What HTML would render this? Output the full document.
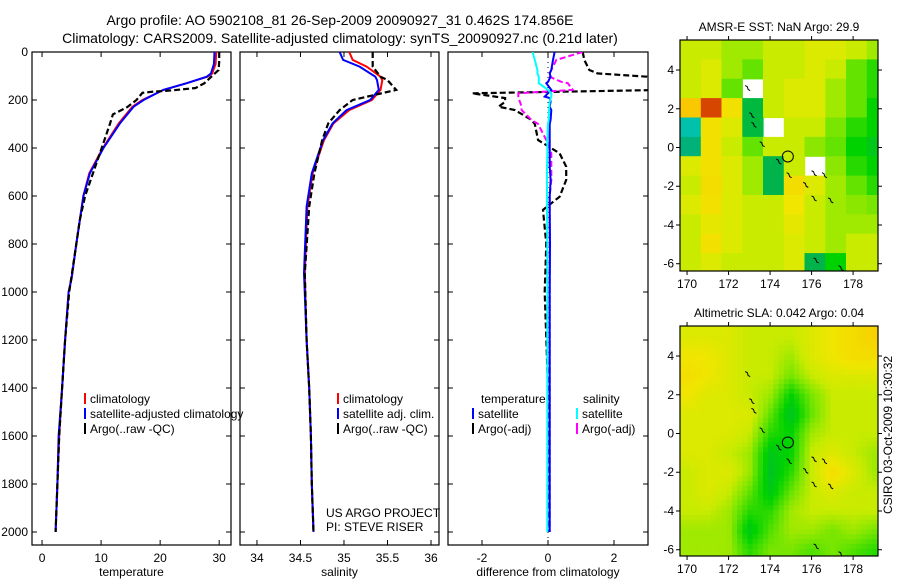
<!DOCTYPE html>
<html><head><meta charset="utf-8"><style>
html,body{margin:0;padding:0;background:#fff;}
svg{display:block;font-family:"Liberation Sans",sans-serif;}
text{fill:#000;}
</style></head><body>
<svg id="fig" width="900" height="580" viewBox="0 0 900 580">
<text x="340" y="25" font-size="14" text-anchor="middle">Argo profile: AO 5902108_81 26-Sep-2009 20090927_31 0.462S 174.856E</text>
<text x="340" y="43" font-size="14" text-anchor="middle">Climatology: CARS2009. Satellite-adjusted climatology: synTS_20090927.nc (0.21d later)</text>
<g id="p1"></g>
<g id="p2"></g>
<g id="p3"></g>
<g id="m1"></g>
<g id="m2"></g>
<text x="0" y="0" font-size="12" transform="translate(892,435) rotate(-90)" text-anchor="middle">CSIRO 03-Oct-2009 10:30:32</text>
</svg>
<script>
// ---- profile data ----
const depthT = [0,50,90,103,130,158,200,228,297,400,505,600,800,943,1000,1200,1400,1600,1800,2000];
const tempSat = [29.2,29.1,28.6,27.9,24.5,20.5,17.2,15.5,13.2,10.4,8.1,7.0,5.8,5.0,4.5,3.9,3.4,2.8,2.6,2.3];
const tempClim = [29.5,29.4,28.8,28.0,24.5,20.6,17.0,15.3,13.0,10.3,8.0,7.0,5.8,5.0,4.5,3.9,3.4,2.9,2.6,2.3];
const depthA = [0,40,75,100,130,150,160,165,170,200,230,260,300,400,500,600,700,800,1000,1200,1400,1600,1800,2000];
const tempArgo = [30.0,30.0,29.9,28.8,27.5,26.0,22,18.9,17.0,16.0,14.4,12.0,11.5,10.1,8.7,7.3,6.4,5.8,4.6,3.9,3.4,2.9,2.6,2.3];
const depthS = [0,33,61,103,117,158,200,242,297,367,505,644,922,1200,1400,1600,1800,2000];
const salSat = [34.95,34.99,35.18,35.36,35.38,35.40,35.30,35.03,34.87,34.76,34.63,34.57,34.54,34.57,34.60,34.62,34.63,34.65];
const salClim = [35.06,35.10,35.26,35.42,35.44,35.42,35.32,35.06,34.88,34.77,34.64,34.58,34.55,34.57,34.60,34.62,34.63,34.65];
const salArgo = [35.33,35.33,35.33,35.42,35.50,35.60,35.10,34.95,34.82,34.75,34.66,34.60,34.55,34.57,34.60,34.62,34.63,34.65];
const depthD = [0,33,75,89,103,124,130,158,172,186,192,207,228,242,283,300,367,422,478,533,603,658,800,1000,1400,2000];
const dTempSat = [0.2,0.15,0.1,0.05,0.08,0.0,-0.05,0.1,0.0,-0.1,0.05,0.08,0.05,0.1,0.08,0.05,0.05,0.05,0.05,0.08,0.05,0.05,0.06,0.05,0.05,0.05];
const dSalSat = [-0.47,-0.40,-0.32,-0.32,-0.28,-0.28,-0.28,0.0,0.1,0.1,0.08,0.05,0.04,0.03,0.02,0.0,-0.02,-0.02,-0.03,-0.03,-0.03,-0.03,-0.02,-0.02,-0.02,-0.02];
const dTempArgo = [1.05,1.1,1.25,1.5,3.0,3.5,3.5,3.5,-2.3,-1.6,-1.3,-1.3,-1.5,-1.0,-0.5,-0.4,-0.3,0.35,0.55,0.55,0.35,-0.15,-0.05,-0.1,0.0,0.0];
const dSalArgo = [1.05,0.25,0.1,0.05,0.05,0.4,0.6,0.75,-0.9,-0.9,-0.9,-0.85,-0.8,-0.8,-0.5,-0.3,-0.05,0.1,0.1,0.1,0.05,0.05,0.05,0.05,0.05,0.05];
const depthTicks = [0,200,400,600,800,1000,1200,1400,1600,1800,2000];
const tempTicks = [0,10,20,30];
const salTicks = [34,34.5,35,35.5,36];
const diffTicks = [-2,0,2];
// ---- map data: 1-degree cells, rows lat 5..-6, cols lon 170..179 ----
const mapLons = [170,171,172,173,174,175,176,177,178,179];
const mapLats = [5,4,3,2,1,0,-1,-2,-3,-4,-5,-6];
const sstGrid = [
[0.6,0.6,0.58,0.58,0.6,0.6,0.62,0.62,0.6,0.58],
[0.6,0.62,0.58,0.55,0.6,0.6,0.62,0.6,0.55,0.52],
[0.6,0.62,0.55,null,0.6,0.62,0.62,0.58,0.55,0.52],
[0.7,0.85,0.65,0.45,0.6,0.62,0.62,0.58,0.55,0.5],
[0.35,0.65,0.62,0.45,null,0.6,0.6,0.56,0.52,0.5],
[0.4,0.65,0.6,0.55,0.6,0.6,0.57,0.55,0.5,0.48],
[0.62,0.65,0.62,0.58,0.44,0.6,null,0.57,0.52,0.5],
[0.6,0.66,0.62,0.58,0.44,0.66,0.62,0.58,0.55,0.52],
[0.62,0.65,0.62,0.6,0.6,0.64,0.6,0.58,0.57,0.56],
[0.6,0.63,0.62,0.6,0.6,0.63,0.6,0.58,0.58,0.58],
[0.6,0.65,0.62,0.6,0.6,0.62,0.6,0.58,0.6,0.6],
[0.6,0.62,0.6,0.6,0.6,0.62,0.44,0.5,0.6,0.6]];
const slaGrid = [
[.62,.62,.62,.6,.6,.6,.62,.64,.66,.68],
[.64,.64,.62,.6,.6,.58,.62,.64,.66,.66],
[.66,.64,.62,.6,.6,.56,.6,.62,.62,.62],
[.64,.62,.62,.6,.58,.5,.56,.6,.6,.6],
[.62,.62,.62,.62,.55,.47,.55,.6,.6,.6],
[.62,.62,.62,.6,.52,.5,.58,.6,.6,.6],
[.62,.62,.6,.58,.48,.5,.6,.62,.6,.58],
[.6,.62,.62,.58,.47,.52,.6,.66,.62,.58],
[.6,.62,.6,.55,.48,.55,.6,.62,.6,.6],
[.6,.6,.58,.52,.52,.58,.6,.6,.6,.6],
[.58,.58,.58,.48,.54,.58,.58,.56,.58,.56],
[.58,.58,.58,.52,.56,.56,.54,.56,.54,.52]];
const floatLon = 174.856, floatLat = -0.462;

const NS = "http://www.w3.org/2000/svg";
function mk(parent, tag, attrs){const e=document.createElementNS(NS,tag);for(const k in attrs)e.setAttribute(k,attrs[k]);parent.appendChild(e);return e;}
const TOP=52, BOT=545;
const yD = d => TOP + d*0.24;

function panel(gid, x0, x1, xMin, xMax, ticks, label, showY){
  const g=document.getElementById(gid);
  const xs = v => x0 + (v-xMin)/(xMax-xMin)*(x1-x0);
  const box=mk(g,'rect',{x:x0,y:TOP,width:x1-x0,height:BOT-TOP,fill:'none',stroke:'#000','stroke-width':1.2});
  
  
  ticks.forEach(t=>{
    const x=xs(t);
    mk(g,'line',{x1:x,x2:x,y1:BOT,y2:BOT-5,stroke:'#000'});
    mk(g,'line',{x1:x,x2:x,y1:TOP,y2:TOP+5,stroke:'#000'});
    const tx=mk(g,'text',{x:x,y:BOT+17,'font-size':12,'text-anchor':'middle'});
    tx.textContent=String(t);
    
    
  });
  depthTicks.forEach(d=>{
    const y=yD(d);
    mk(g,'line',{x1:x0,x2:x0+5,y1:y,y2:y,stroke:'#000'});
    mk(g,'line',{x1:x1,x2:x1-5,y1:y,y2:y,stroke:'#000'});
    if(showY){const tx=mk(g,'text',{x:x0-4,y:y+4,'font-size':12,'text-anchor':'end'});tx.textContent=String(d);
      
      }
  });
  const lb=mk(g,'text',{x:(x0+x1)/2,y:BOT+31,'font-size':12,'text-anchor':'middle'});
  lb.textContent=label;
  
  
  const clipId='c'+gid;
  const cp=mk(g,'clipPath',{id:clipId});mk(cp,'rect',{x:x0,y:TOP,width:x1-x0,height:BOT-TOP});
  const inner=mk(g,'g',{'clip-path':'url(#'+clipId+')'});
  return {g, inner, xs};
}
function series(P, depths, vals, color, dash, name, w){
  const pts=depths.map((d,i)=>P.xs(vals[i]).toFixed(1)+','+yD(d).toFixed(1)).join(' ');
  const pl=mk(P.inner,'polyline',{points:pts,fill:'none',stroke:color,'stroke-width':w||2,'stroke-dasharray':dash||'none'});
  
  
}
function legend(g,x,y,items){
  items.forEach((it,i)=>{
    const yy=y+i*15;
    mk(g,'line',{x1:x,x2:x,y1:yy-10,y2:yy+1,stroke:it[1],'stroke-width':2});
    const t=mk(g,'text',{x:x+5,y:yy,'font-size':12});t.textContent=it[0];
    
    
  });
}
const P1=panel('p1',32,231,-1.7,32,tempTicks,'temperature',true);
series(P1,depthT,tempClim,'#f00','none','temp-climatology-line');
series(P1,depthT,tempSat,'#00f','none','temp-satellite-line');
series(P1,depthA,tempArgo,'#000','6,3','temp-argo-line',2.2);
legend(P1.g,85,403,[['climatology','#f00'],['satellite-adjusted climatology','#00f'],['Argo(..raw -QC)','#000']]);

const P2=panel('p2',240,439,33.805,36.092,salTicks,'salinity',false);
series(P2,depthS,salClim,'#f00','none','sal-climatology-line');
series(P2,depthS,salSat,'#00f','none','sal-satellite-line');
series(P2,depthS,salArgo,'#000','6,3','sal-argo-line',2.2);
legend(P2.g,338,403,[['climatology','#f00'],['satellite adj. clim.','#00f'],['Argo(..raw -QC)','#000']]);
[['US ARGO PROJECT',517],['PI: STEVE RISER',531]].forEach(a=>{const t=mk(P2.g,'text',{x:326,y:a[1],'font-size':12});t.textContent=a[0];
  
  });

const P3=panel('p3',448,648,-3.03,3.03,diffTicks,'difference from climatology',false);
mk(P3.inner,'line',{x1:P3.xs(0),x2:P3.xs(0),y1:TOP,y2:BOT,stroke:'#000','stroke-dasharray':'1,4'});
series(P3,depthD,dTempArgo,'#000','6,3','diff-temp-argo-line',2.2);
series(P3,depthD,dSalArgo,'#f0f','6,3','diff-sal-argo-line');
series(P3,depthD,dTempSat,'#00f','none','diff-temp-satellite-line');
series(P3,depthD,dSalSat,'#0ff','none','diff-sal-satellite-line');
{const t=mk(P3.g,'text',{x:481,y:403,'font-size':12});t.textContent='temperature';
 
 
 const t2=mk(P3.g,'text',{x:583,y:403,'font-size':12});t2.textContent='salinity';
 
 }
legend(P3.g,473,418,[['satellite','#00f'],['Argo(-adj)','#000']]);
legend(P3.g,577,418,[['satellite','#0ff'],['Argo(-adj)','#f0f']]);

// ---- maps ----
const cmapStops=[[0,[0,0,140]],[0.15,[0,60,255]],[0.3,[0,210,220]],[0.42,[0,170,100]],[0.5,[0,210,0]],[0.56,[120,230,0]],[0.6,[200,235,0]],[0.64,[240,230,0]],[0.7,[250,200,0]],[0.8,[240,120,0]],[0.88,[200,40,0]],[1,[140,0,0]]];
function cmap(v){
  v=Math.max(0,Math.min(1,v));
  for(let i=1;i<cmapStops.length;i++){
    if(v<=cmapStops[i][0]){
      const a=cmapStops[i-1],b=cmapStops[i],t=(v-a[0])/(b[0]-a[0]);
      const c=a[1].map((x,k)=>Math.round(x+(b[1][k]-x)*t));
      return 'rgb('+c.join(',')+')';
    }
  }
  return 'rgb(140,0,0)';
}
function mapPanel(gid, top, bottom, title, grid, smooth){
  const g=document.getElementById(gid);
  const L=680,R=878, lonMin=169.66, lonMax=179.2;
  const latTop=5.55, latBot=latTop-(bottom-top)/19.37;
  const xs=lon=>L+(lon-lonMin)/(lonMax-lonMin)*(R-L);
  const ys=lat=>top+(latTop-lat)*19.37;
  const cid='c'+gid;
  const cp=mk(g,'clipPath',{id:cid});mk(cp,'rect',{x:L,y:top,width:R-L,height:bottom-top});
  const inner=mk(g,'g',{'clip-path':'url(#'+cid+')'});
  mk(inner,'rect',{x:L,y:top,width:R-L,height:bottom-top,fill:'#fff'});
  const val=(lon,lat)=>{
    const fi=Math.max(0,Math.min(mapLats.length-1,mapLats[0]-lat));
    const fj=Math.max(0,Math.min(mapLons.length-1,lon-mapLons[0]));
    if(!smooth){const v=grid[Math.round(fi)][Math.round(fj)];return v;}
    const i0=Math.floor(fi),j0=Math.floor(fj),i1=Math.min(i0+1,mapLats.length-1),j1=Math.min(j0+1,mapLons.length-1);
    const a=fi-i0,b=fj-j0;
    return grid[i0][j0]*(1-a)*(1-b)+grid[i0][j1]*(1-a)*b+grid[i1][j0]*a*(1-b)+grid[i1][j1]*a*b;
  };
  const step=smooth?0.25:0.5;
  for(let lat=latTop; lat>latBot-step; lat-=step){
    for(let lon=lonMin; lon<lonMax; lon+=step){
      const v=val(lon+step/2,lat-step/2);
      if(v===null) continue;
      const r=mk(inner,'rect',{x:xs(lon).toFixed(1),y:ys(lat).toFixed(1),width:(step*20.75+0.6).toFixed(1),height:(step*19.37+0.6).toFixed(1),fill:cmap(v)});
      
      
    }
  }
  [[172.8,3.2],[173,1.8],[173.1,1.3],[173.5,0.3],[174.3,-0.6],[174.8,-1.3],[175.6,-1.8],[176,-1.2],[176.5,-1.3],[176,-2.5],[176.8,-2.6],[176.1,-5.7],[177.3,-6.1]].forEach(p=>{
    mk(inner,'path',{d:'M'+xs(p[0])+','+ys(p[1])+' l2,1 l1,3 l2,1',fill:'none',stroke:'#000','stroke-width':1});
  });
  const circ=mk(inner,'circle',{cx:xs(floatLon),cy:ys(floatLat),r:5.5,fill:'none',stroke:'#000','stroke-width':1});
  
  
  mk(g,'rect',{x:L,y:top,width:R-L,height:bottom-top,fill:'none',stroke:'#000','stroke-width':1.2});
  [170,172,174,176,178].forEach(lon=>{
    const x=xs(lon);
    mk(g,'line',{x1:x,x2:x,y1:bottom,y2:bottom+4,stroke:'#000'});
    mk(g,'line',{x1:x,x2:x,y1:top,y2:top-4,stroke:'#000'});
    const t=mk(g,'text',{x:x,y:bottom+17,'font-size':12,'text-anchor':'middle'});t.textContent=String(lon);
    
    
  });
  [4,2,0,-2,-4,-6].forEach(lat=>{
    const y=ys(lat);
    mk(g,'line',{x1:L,x2:L-4,y1:y,y2:y,stroke:'#000'});
    mk(g,'line',{x1:R,x2:R+4,y1:y,y2:y,stroke:'#000'});
    const t=mk(g,'text',{x:L-6,y:y+4,'font-size':12,'text-anchor':'end'});t.textContent=String(lat);
    
    
  });
  const tt=mk(g,'text',{x:(L+R)/2,y:top-9,'font-size':12,'text-anchor':'middle'});tt.textContent=title;
  
  
}
mapPanel('m1',40,271,'AMSR-E SST: NaN Argo: 29.9',sstGrid,false);
mapPanel('m2',326,556,'Altimetric SLA: 0.042 Argo: 0.04',slaGrid,true);
</script>
</body></html>
